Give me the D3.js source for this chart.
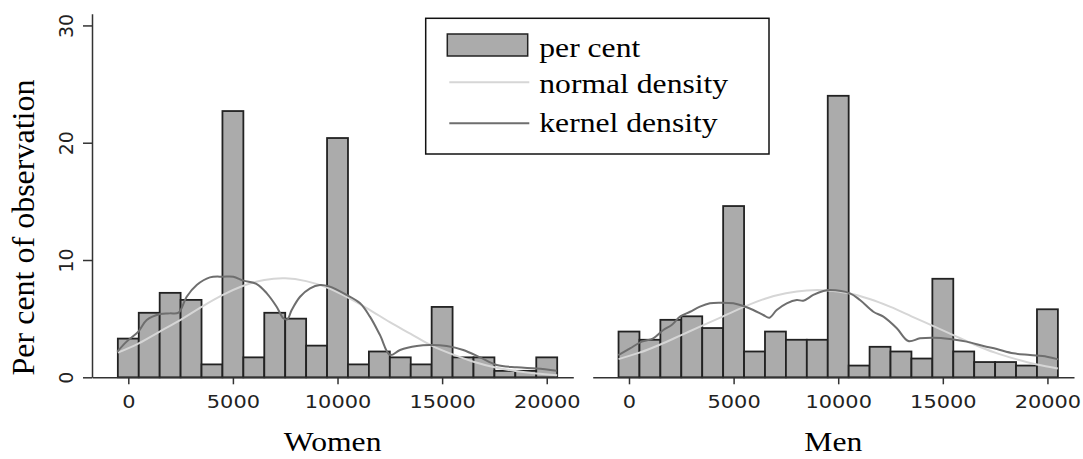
<!DOCTYPE html>
<html>
<head>
<meta charset="utf-8">
<script src="https://cdn.jsdelivr.net/npm/d3@7"></script>
<style>
    body { margin: 0; background: #fff; }
</style>
</head>
<body>
<div id="chart"></div>
<script>
// Bin centres, one bar for every 1000.
const binCentres = [0, 1000, 2000, 3000, 4000, 5000, 6000, 7000, 8000, 9000, 10000,
    11000, 12000, 13000, 14000, 15000, 16000, 17000, 18000, 19000, 20000];

// Per cent of observations in each bin.
const womenPercent = [3.3, 5.5, 7.2, 6.6, 1.1, 22.7, 1.7, 5.5, 5.0, 2.7, 20.4,
    1.1, 2.2, 1.7, 1.1, 6.0, 1.7, 1.7, 0.55, 0.55, 1.7];
const menPercent = [3.9, 3.2, 4.9, 5.2, 4.2, 14.6, 2.2, 3.9, 3.2, 3.2, 24.0,
    1.0, 2.6, 2.2, 1.6, 8.4, 2.2, 1.3, 1.3, 1.0, 5.8];

const normalX = [-500, 500, 1500, 2500, 3500, 4500, 5500, 6500, 7500, 8500, 9500,
    10500, 11500, 12500, 13500, 14500, 15500, 16500, 17500, 18500, 19500, 20500];
const womenNormal = [2.1, 2.9, 3.9, 4.9, 6.0, 7.0, 7.8, 8.3, 8.44, 8.2, 7.65,
    6.8, 5.8, 4.7, 3.7, 2.7, 1.95, 1.33, 0.86, 0.54, 0.32, 0.18];
const menNormal = [1.55, 2.1, 2.8, 3.6, 4.4, 5.2, 6.0, 6.7, 7.16, 7.41, 7.41,
    7.16, 6.67, 6.0, 5.2, 4.4, 3.6, 2.8, 2.1, 1.55, 1.09, 0.75];

// Kernel density curves.
const womenKernelX = [-530, -80, 480, 880, 1520, 1990, 2400, 2790, 3270, 3900, 4540,
    5020, 5500, 6140, 6620, 7090, 7410, 7600, 7810, 8210, 8690, 9160, 9600, 10440,
    11080, 11550, 12030, 12510, 12990, 13790, 14420, 15220, 16010, 16810, 17610,
    18570, 19520, 20480];
const womenKernel = [2.18, 3.04, 3.89, 4.88, 5.40, 5.45, 5.51, 6.87, 7.87, 8.52, 8.58,
    8.58, 8.24, 7.95, 7.16, 6.02, 5.03, 4.94, 5.74, 6.87, 7.59, 7.87, 7.75, 7.02,
    6.31, 5.17, 3.6, 1.9, 2.33, 2.67, 2.75, 2.67, 2.33, 1.7, 1.05,
    0.85, 0.74, 0.56];
const menKernelX = [-510, 50, 610, 1160, 1640, 2040, 2440, 2920, 3390, 3870, 4350,
    4990, 5460, 5940, 6420, 6710, 7060, 7540, 8020, 8330, 8810, 9290, 9610, 10560,
    11040, 11680, 12160, 12800, 13350, 13910, 14550, 15340, 16140, 16940, 17580,
    18370, 19170, 19970, 20520];
const menKernel = [1.9, 2.47, 3.04, 3.32, 4.03, 4.46, 5.17, 5.59, 6.02, 6.31, 6.36,
    6.31, 6.08, 5.74, 5.31, 5.08, 5.74, 6.31, 6.59, 6.53, 7.02, 7.36, 7.44, 7.16,
    6.59, 5.59, 5.17, 4.18, 3.09, 3.32, 3.38, 3.27, 3.04, 2.67, 2.41,
    2.05, 1.9, 1.76, 1.53];

// Tick labels and texts.
const xTicks = [0, 5000, 10000, 15000, 20000];
const yTicks = [0, 10, 20, 30];
const panelTitles = ["Women", "Men"];
const legendLabels = ["per cent", "normal density", "kernel density"];

// Horizontal text in the picture is a little wider than normal.
const stretch = 1.13;

const width = 1083;
const height = 459;

let svg = d3.select("#chart")
    .append("svg")
    .attr("width", width)
    .attr("height", height);

// Shared y scale.
let y = d3.scaleLinear()
    .domain([0, 31])
    .range([377.3, 13.7]);

// One panel per sex.
let panels = [
    { title: panelTitles[0], percent: womenPercent, normal: womenNormal,
      kernelX: womenKernelX, kernel: womenKernel, left: 92, right: 573.3 },
    { title: panelTitles[1], percent: menPercent, normal: menNormal,
      kernelX: menKernelX, kernel: menKernel, left: 592.7, right: 1074 }
];

panels.forEach(function(p, idx) {

    let x = d3.scaleLinear()
        .domain([-1735, 21270])
        .range([p.left, p.right]);

    let g = svg.append("g");

    // Bars.
    g.selectAll("rect")
        .data(binCentres)
        .enter().append("rect")
        .attr("x", function(d) { return x(d - 500); })
        .attr("width", function(d) { return x(d + 500) - x(d - 500); })
        .attr("y", function(d, i) { return y(p.percent[i]); })
        .attr("height", function(d, i) { return y(0) - y(p.percent[i]); })
        .attr("fill", "#ababab")
        .attr("stroke", "#222")
        .attr("stroke-width", 1.8);

    // Normal density.
    let normalLine = d3.line()
        .x(function(d, i) { return x(normalX[i]); })
        .y(function(d) { return y(d); })
        .curve(d3.curveCatmullRom.alpha(0.5));

    g.append("path")
        .attr("d", normalLine(p.normal))
        .attr("fill", "none")
        .attr("stroke", "#d6d6d6")
        .attr("stroke-width", 2);

    // Kernel density.
    let kernelLine = d3.line()
        .x(function(d, i) { return x(p.kernelX[i]); })
        .y(function(d) { return y(d); })
        .curve(d3.curveCatmullRom.alpha(0.5));

    g.append("path")
        .attr("d", kernelLine(p.kernel))
        .attr("fill", "none")
        .attr("stroke", "#6e6e6e")
        .attr("stroke-width", 2);

    // X axis.
    let xAxis = g.append("g")
        .attr("transform", "translate(0," + y(0) + ")")
        .call(d3.axisBottom(x).tickValues(xTicks).tickSize(7).tickSizeOuter(0).tickFormat(d3.format("d")));

    xAxis.select(".domain").attr("stroke", "#333").attr("stroke-width", 1.5);
    xAxis.selectAll(".tick line").attr("stroke", "#333").attr("stroke-width", 1.5);
    xAxis.selectAll(".tick text")
        .attr("y", 0)
        .attr("dy", 0)
        .attr("transform", "translate(0,30.4) scale(" + stretch + ",1)")
        .attr("fill", "#222")
        .style("font-family", "'DejaVu Sans', sans-serif")
        .style("font-size", "18.5px")
        .style("text-anchor", "middle");

    // Panel title.
    g.append("text")
        .attr("transform", "translate(" + ((p.left + p.right) / 2) + ",451) scale(" + stretch + ",1)")
        .attr("text-anchor", "middle")
        .style("font-family", "'Liberation Serif', 'Times New Roman', serif")
        .style("font-size", "28px")
        .text(p.title);

    // Only the first panel carries the y axis.
    if (idx === 0) {
        let yAxis = g.append("g")
            .attr("transform", "translate(" + p.left + ",0)")
            .call(d3.axisLeft(y).tickValues(yTicks).tickSize(9).tickSizeOuter(0));

        yAxis.select(".domain").attr("stroke", "#333").attr("stroke-width", 1.5);
        yAxis.selectAll(".tick line").attr("stroke", "#333").attr("stroke-width", 1.5);
        yAxis.selectAll(".tick text")
            .attr("transform", "rotate(-90)")
            .attr("x", 0)
            .attr("y", -19)
            .attr("dy", 0)
            .attr("fill", "#222")
            .style("font-family", "'DejaVu Sans', sans-serif")
            .style("font-size", "19px")
            .style("text-anchor", "middle");
    }
});

// Y axis title.
svg.append("text")
    .attr("transform", "translate(34,227.5) rotate(-90)")
    .attr("text-anchor", "middle")
    .style("font-family", "'Liberation Serif', 'Times New Roman', serif")
    .style("font-size", "32px")
    .text("Per cent of observation");

// Legend.
let legend = svg.append("g").attr("class", "legend");

legend.append("rect")
    .attr("x", 425.7)
    .attr("y", 18.3)
    .attr("width", 343.3)
    .attr("height", 135.7)
    .attr("fill", "#fff")
    .attr("stroke", "#111")
    .attr("stroke-width", 1.5);

legend.append("rect")
    .attr("x", 447.3)
    .attr("y", 34)
    .attr("width", 80.4)
    .attr("height", 22)
    .attr("fill", "#ababab")
    .attr("stroke", "#222")
    .attr("stroke-width", 1.5);

legend.append("line")
    .attr("x1", 449.3).attr("x2", 529.3)
    .attr("y1", 82.3).attr("y2", 82.3)
    .attr("stroke", "#d6d6d6")
    .attr("stroke-width", 2);

legend.append("line")
    .attr("x1", 449.3).attr("x2", 529.3)
    .attr("y1", 123.3).attr("y2", 123.3)
    .attr("stroke", "#6e6e6e")
    .attr("stroke-width", 2);

let legendBaselines = [57, 93, 132];
legend.selectAll("text")
    .data(legendLabels)
    .enter().append("text")
    .attr("transform", function(d, i) {
        return "translate(539.3," + legendBaselines[i] + ") scale(" + stretch + ",1)";
    })
    .style("font-family", "'Liberation Serif', 'Times New Roman', serif")
    .style("font-size", "28px")
    .text(function(d) { return d; });
</script>
</body>
</html>
